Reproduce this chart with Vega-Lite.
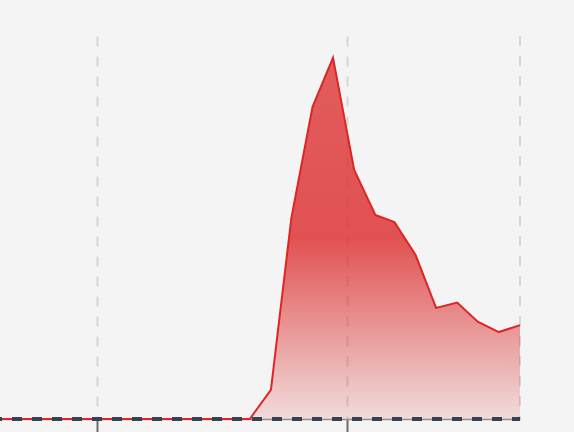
{
  "$schema": "https://vega.github.io/schema/vega-lite/v6.json",
  "width": 520,
  "height": 383,
  "autosize": "none",
  "padding": {"left": 0, "top": 36, "right": 54, "bottom": 13},
  "background": "#f4f4f4",
  "config": {
    "view": {"stroke": null},
    "axisX": {
      "grid": true,
      "gridColor": "#d6d6d6",
      "gridWidth": 2,
      "gridDash": [10, 10],
      "domainColor": "#8f8f8f",
      "domainWidth": 1.5,
      "tickColor": "#6b6b6b",
      "tickWidth": 2,
      "tickSize": 16,
      "labels": false,
      "title": null
    }
  },
  "data": {
    "values": [
      {"date": "2019-08-12", "value": 0},
      {"date": "2019-09-12", "value": 0},
      {"date": "2019-10-12", "value": 0},
      {"date": "2019-11-12", "value": 0},
      {"date": "2019-12-12", "value": 0},
      {"date": "2020-01-12", "value": 0},
      {"date": "2020-02-12", "value": 0},
      {"date": "2020-03-12", "value": 0},
      {"date": "2020-04-12", "value": 0},
      {"date": "2020-05-12", "value": 0},
      {"date": "2020-06-12", "value": 0},
      {"date": "2020-07-12", "value": 0},
      {"date": "2020-08-12", "value": 0},
      {"date": "2020-09-12", "value": 7.6},
      {"date": "2020-10-12", "value": 52.5},
      {"date": "2020-11-12", "value": 81.5},
      {"date": "2020-12-12", "value": 94.3},
      {"date": "2021-01-12", "value": 65},
      {"date": "2021-02-12", "value": 53.3},
      {"date": "2021-03-12", "value": 51.4},
      {"date": "2021-04-12", "value": 42.8},
      {"date": "2021-05-12", "value": 29},
      {"date": "2021-06-12", "value": 30.4},
      {"date": "2021-07-12", "value": 25.4},
      {"date": "2021-08-12", "value": 22.7},
      {"date": "2021-09-12", "value": 24.5}
    ]
  },
  "layer": [
    {
      "mark": {"type": "rule", "color": "#d6d6d6", "strokeWidth": 2, "strokeDash": [10, 10]},
      "encoding": {
        "x": {"aggregate": "max", "field": "date", "type": "temporal"}
      }
    },
    {
      "mark": {
        "type": "area",
        "opacity": 1,
        "line": {"color": "#dc2626", "strokeWidth": 2},
        "color": {
          "gradient": "linear",
          "x1": 0, "y1": 0, "x2": 0, "y2": 1,
          "stops": [
            {"offset": 0, "color": "rgba(220,38,38,0.74)"},
            {"offset": 0.5, "color": "rgba(220,38,38,0.79)"},
            {"offset": 1, "color": "rgba(220,38,38,0.12)"}
          ]
        }
      },
      "encoding": {
        "x": {
          "field": "date",
          "type": "temporal",
          "scale": {"type": "utc", "nice": false},
          "axis": {"tickCount": {"interval": "year", "step": 1}}
        },
        "y": {
          "field": "value",
          "type": "quantitative",
          "scale": {"domain": [0, 100]},
          "axis": null
        }
      }
    },
    {
      "mark": {"type": "rule", "color": "#374151", "strokeWidth": 4, "strokeDash": [10, 10], "strokeDashOffset": 2},
      "encoding": {
        "y": {"datum": 0, "type": "quantitative"}
      }
    }
  ]
}
